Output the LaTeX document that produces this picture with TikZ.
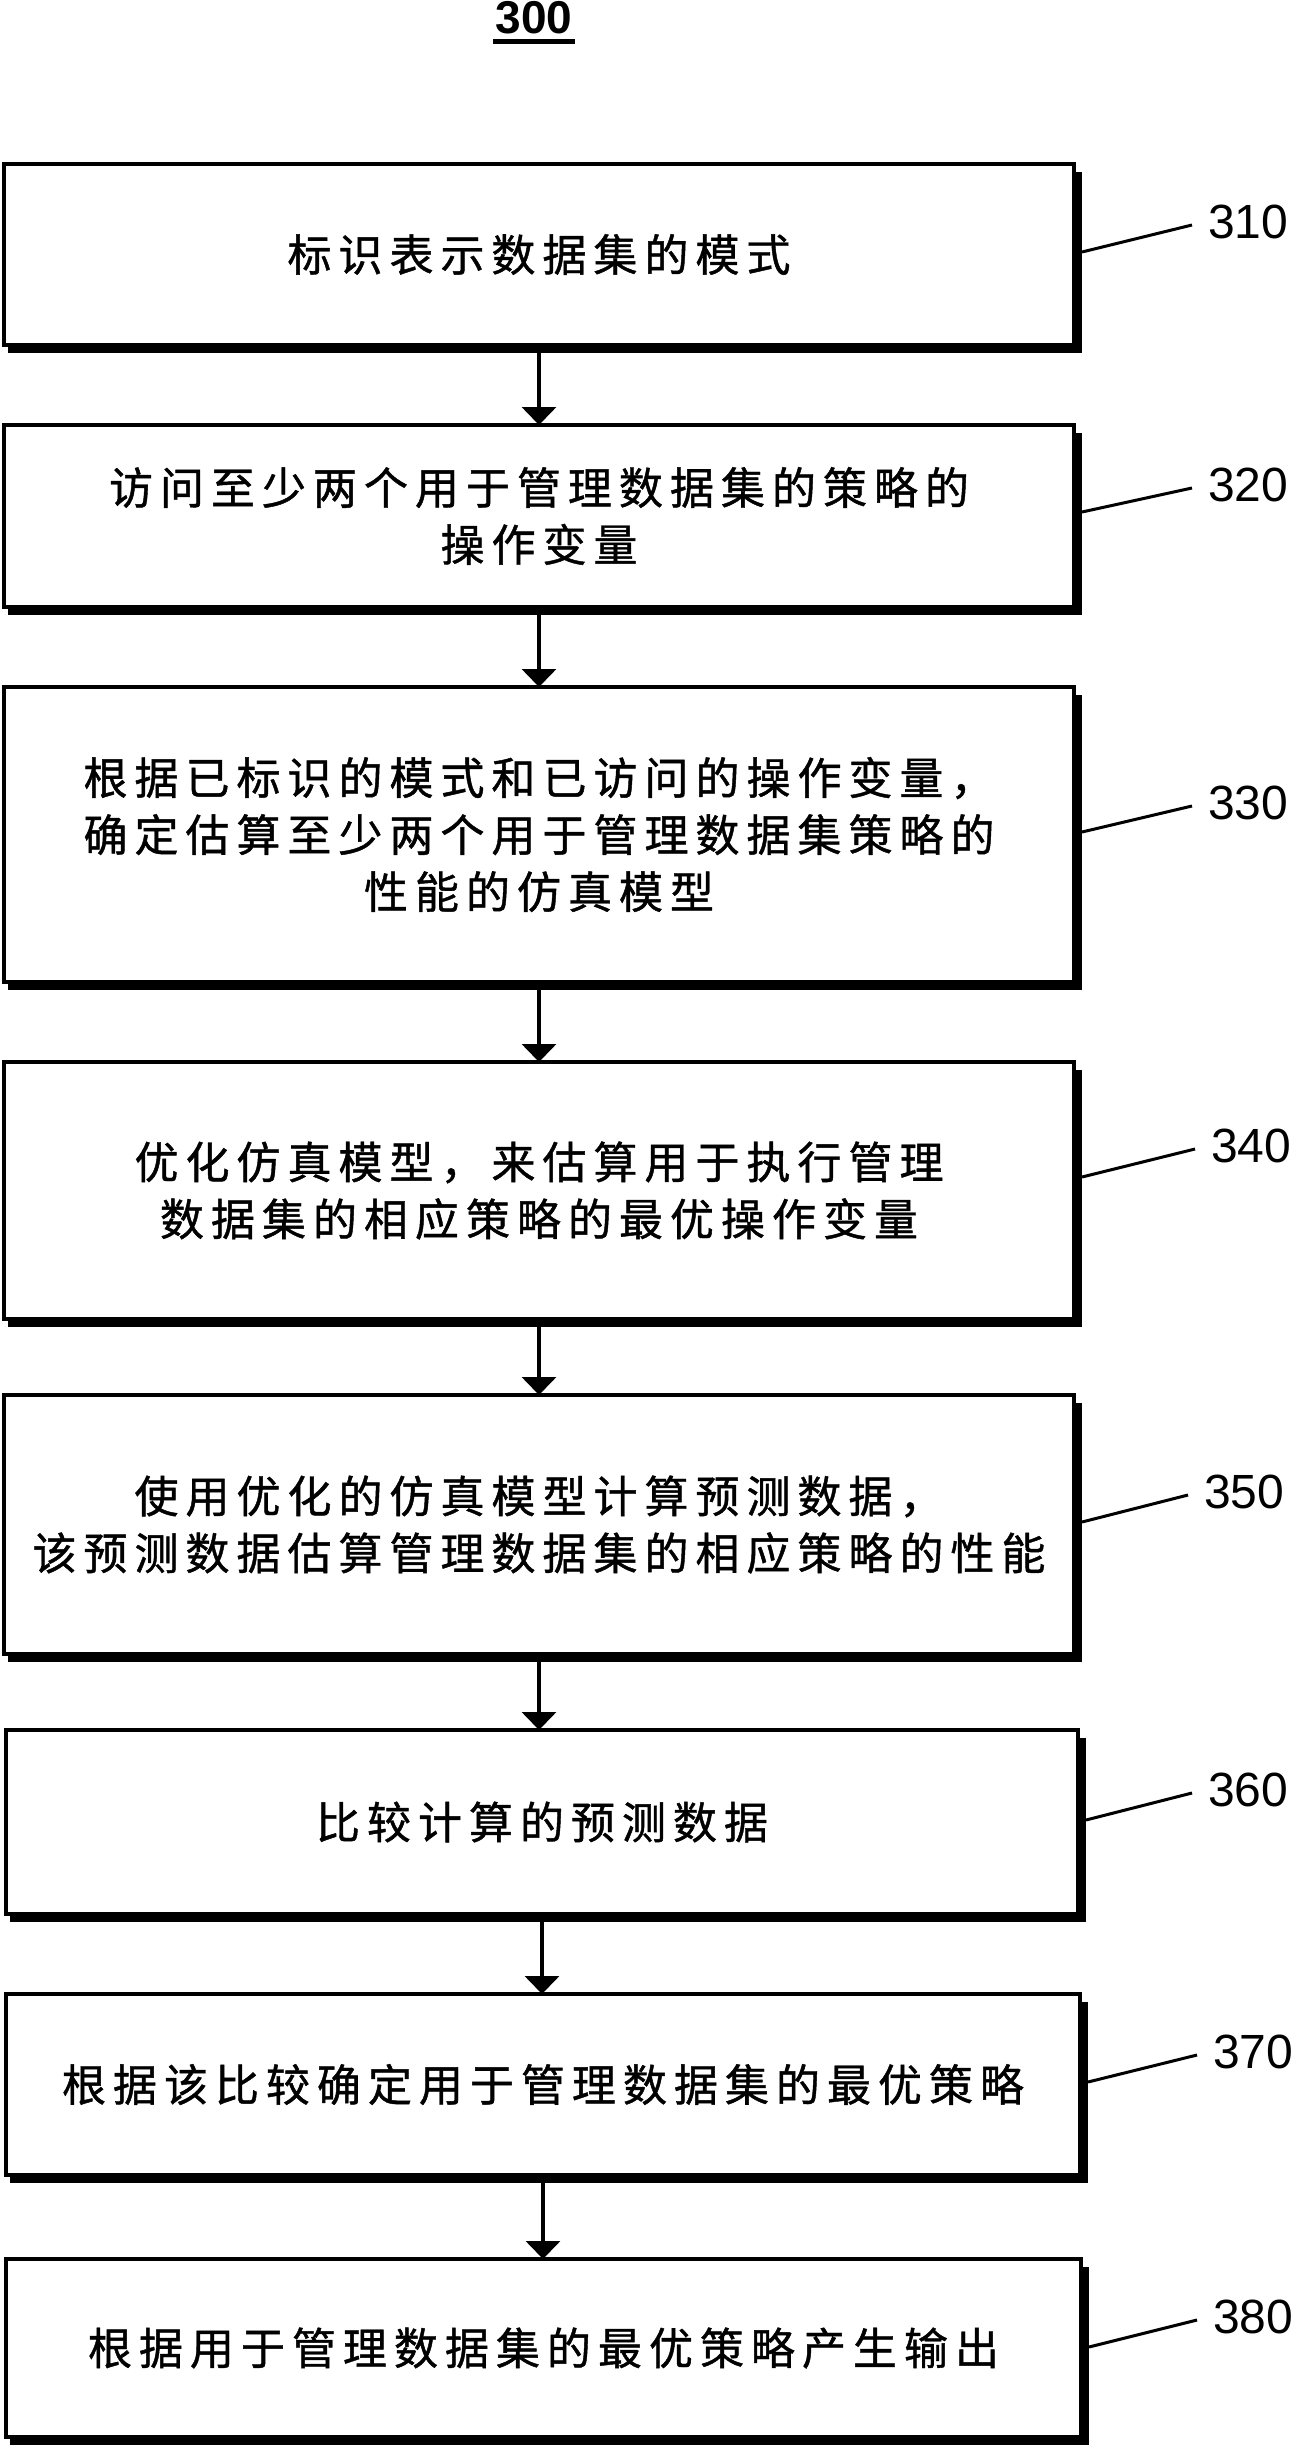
\documentclass[tikz,border=0pt]{standalone}
\usepackage{fontspec}
\setmainfont{Liberation Sans}
\newfontfamily\cjk[FakeBold=1]{Noto Sans CJK SC}
\usetikzlibrary{arrows.meta}
\newXeTeXintercharclass\cjkcls
\count255="4E00
\loop
  \XeTeXcharclass\count255=\cjkcls
  \advance\count255 by 1
\ifnum\count255<"A000 \repeat
\XeTeXcharclass"FF0C=\cjkcls
\XeTeXinterchartoks\cjkcls\cjkcls={\hspace{7pt}}
\XeTeXinterchartokenstate=1
\newcommand\boxshadow[1]{%
  \fill ([xshift=-2pt,yshift=-8pt]#1.north east) rectangle ([xshift=8pt,yshift=-8pt]#1.south east);
  \fill ([xshift=4pt,yshift=2pt]#1.south west) rectangle ([xshift=8pt,yshift=-8pt]#1.south east);}
\begin{document}
\begin{tikzpicture}[x=1pt,y=-1pt,
  stepbox/.style={draw, line width=4pt, outer sep=0pt, inner sep=0pt, align=center,
    font=\cjk\fontsize{44}{57}\selectfont},
  flow/.style={line width=3.5pt, -{Triangle[length=18pt,width=34pt]}},
  leader/.style={line width=3pt},
  lbl/.style={inner sep=0pt, outer sep=0pt, anchor=west, font=\fontsize{48}{48}\selectfont}]
\useasboundingbox (0,0) rectangle (1297,2454);

% title
\node[inner sep=0pt, font=\bfseries\fontsize{46}{46}\selectfont] (t) at (534,17.5) {300};
\draw[line width=5pt] ([xshift=-2pt,yshift=-7.5pt]t.south west) -- ([xshift=2pt,yshift=-7.5pt]t.south east);

% boxes
\node[stepbox, minimum width=1070pt, minimum height=181pt] (b1) at (539,254.5) {标识表示数据集的模式};
\node[stepbox, minimum width=1070pt, minimum height=182pt] (b2) at (539,516) {访问至少两个用于管理数据集的策略的\\操作变量};
\node[stepbox, minimum width=1070pt, minimum height=295pt] (b3) at (539,834.5) {根据已标识的模式和已访问的操作变量，\\确定估算至少两个用于管理数据集策略的\\性能的仿真模型};
\node[stepbox, minimum width=1070pt, minimum height=257pt] (b4) at (539,1190.5) {优化仿真模型，来估算用于执行管理\\数据集的相应策略的最优操作变量};
\node[stepbox, minimum width=1070pt, minimum height=259pt] (b5) at (539,1524.5) {使用优化的仿真模型计算预测数据，\\该预测数据估算管理数据集的相应策略的性能};
\node[stepbox, minimum width=1072pt, minimum height=184pt] (b6) at (542,1822) {比较计算的预测数据};
\node[stepbox, minimum width=1074pt, minimum height=181pt] (b7) at (543,2084.5) {根据该比较确定用于管理数据集的最优策略};
\node[stepbox, minimum width=1075pt, minimum height=178pt] (b8) at (543.5,2348) {根据用于管理数据集的最优策略产生输出};

\boxshadow{b1}\boxshadow{b2}\boxshadow{b3}\boxshadow{b4}
\boxshadow{b5}\boxshadow{b6}\boxshadow{b7}\boxshadow{b8}

% arrows
\draw[flow] (b1.south) -- (b1.south |- b2.north);
\draw[flow] (b2.south) -- (b2.south |- b3.north);
\draw[flow] (b3.south) -- (b3.south |- b4.north);
\draw[flow] (b4.south) -- (b4.south |- b5.north);
\draw[flow] (b5.south) -- (b5.south |- b6.north);
\draw[flow] (b6.south) -- (b6.south |- b7.north);
\draw[flow] (b7.south) -- (b7.south |- b8.north);

% labels
\node[lbl] (l1) at (1208,222) {310};
\node[lbl] (l2) at (1208,485) {320};
\node[lbl] (l3) at (1208,803) {330};
\node[lbl] (l4) at (1211,1146) {340};
\node[lbl] (l5) at (1204,1492) {350};
\node[lbl] (l6) at (1208,1790) {360};
\node[lbl] (l7) at (1213,2052) {370};
\node[lbl] (l8) at (1213,2317) {380};

% leaders
\draw[leader] ([xshift=8pt,yshift=2.5pt]b1.east) -- ([xshift=-16pt,yshift=-3pt]l1.west);
\draw[leader] ([xshift=8pt,yshift=4pt]b2.east) -- ([xshift=-16pt,yshift=-3pt]l2.west);
\draw[leader] ([xshift=8pt,yshift=2.5pt]b3.east) -- ([xshift=-16pt,yshift=-3pt]l3.west);
\draw[leader] ([xshift=8pt,yshift=13.5pt]b4.east) -- ([xshift=-16pt,yshift=-3pt]l4.west);
\draw[leader] ([xshift=8pt,yshift=2.5pt]b5.east) -- ([xshift=-16pt,yshift=-3pt]l5.west);
\draw[leader] ([xshift=8pt,yshift=2pt]b6.east) -- ([xshift=-16pt,yshift=-3pt]l6.west);
\draw[leader] ([xshift=8pt,yshift=2.5pt]b7.east) -- ([xshift=-16pt,yshift=-3pt]l7.west);
\draw[leader] ([xshift=8pt,yshift=1pt]b8.east) -- ([xshift=-16pt,yshift=-3pt]l8.west);
\end{tikzpicture}
\end{document}
